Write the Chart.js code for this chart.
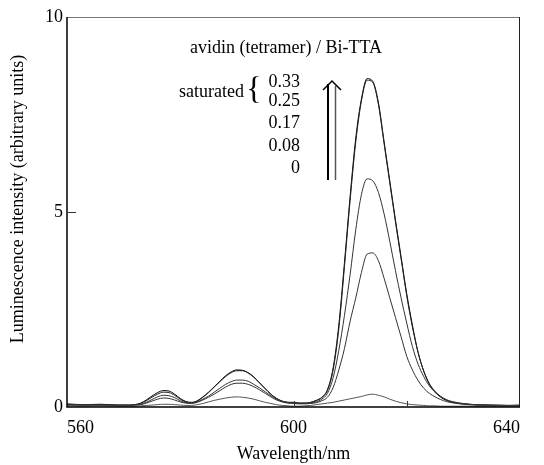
<!DOCTYPE html>
<html>
<head>
<meta charset="utf-8">
<script src="https://cdn.jsdelivr.net/npm/chart.js@4.4.1/dist/chart.umd.min.js"></script>
<style>
  html, body { margin: 0; padding: 0; background: #fff; }
  #wrap { width: 544px; height: 465px; }
</style>
</head>
<body>
<div id="wrap"><canvas id="chartLum" width="544" height="465"></canvas></div>
<script>
// wavelength (nm) shared by every spectrum
const wavelengths = [560, 563, 566, 569, 571, 572, 573, 574, 575, 576, 577, 578, 579, 580, 581, 582, 583, 584, 585, 586, 587, 588, 589, 590, 591, 592, 593, 594, 595, 596, 597, 598, 599, 600, 601, 602, 603, 604, 605, 606, 607, 608, 609, 610, 611, 612, 613, 614, 615, 616, 617, 618, 619, 620, 621, 622, 623, 624, 625, 626, 627, 628, 630, 632, 634, 636, 638, 640];

// avidin/Bi-TTA ratio 0.33
const lum033 = [0.08, 0.06, 0.07, 0.05, 0.05, 0.06, 0.10, 0.18, 0.28, 0.37, 0.42, 0.41, 0.33, 0.22, 0.14, 0.12, 0.16, 0.26, 0.38, 0.52, 0.66, 0.80, 0.90, 0.95, 0.94, 0.88, 0.77, 0.62, 0.47, 0.33, 0.22, 0.15, 0.12, 0.12, 0.10, 0.10, 0.12, 0.17, 0.25, 0.45, 1.00, 2.10, 3.70, 5.40, 6.90, 7.90, 8.42, 8.35, 7.80, 6.80, 5.80, 4.80, 3.85, 2.90, 2.10, 1.40, 0.92, 0.58, 0.38, 0.25, 0.17, 0.12, 0.08, 0.06, 0.05, 0.05, 0.04, 0.05];
// 0.25
const lum025 = [0.06, 0.05, 0.06, 0.05, 0.05, 0.06, 0.09, 0.16, 0.25, 0.33, 0.38, 0.37, 0.30, 0.20, 0.13, 0.11, 0.15, 0.25, 0.37, 0.51, 0.65, 0.78, 0.88, 0.93, 0.93, 0.87, 0.76, 0.62, 0.47, 0.33, 0.22, 0.15, 0.12, 0.11, 0.10, 0.10, 0.11, 0.16, 0.24, 0.42, 0.95, 2.00, 3.60, 5.30, 6.80, 7.85, 8.38, 8.32, 7.75, 6.75, 5.75, 4.75, 3.80, 2.85, 2.05, 1.40, 0.92, 0.60, 0.40, 0.27, 0.18, 0.13, 0.08, 0.06, 0.05, 0.04, 0.04, 0.04];
// 0.17
const lum017 = [0.06, 0.05, 0.05, 0.04, 0.04, 0.05, 0.07, 0.12, 0.19, 0.26, 0.30, 0.29, 0.24, 0.16, 0.11, 0.10, 0.13, 0.20, 0.28, 0.38, 0.48, 0.58, 0.65, 0.69, 0.69, 0.66, 0.58, 0.49, 0.39, 0.29, 0.20, 0.14, 0.11, 0.10, 0.09, 0.09, 0.10, 0.13, 0.20, 0.35, 0.75, 1.45, 2.35, 3.40, 4.55, 5.45, 5.85, 5.80, 5.50, 4.95, 4.25, 3.50, 2.80, 2.15, 1.55, 1.10, 0.78, 0.54, 0.38, 0.27, 0.19, 0.14, 0.09, 0.06, 0.05, 0.04, 0.04, 0.04];
// 0.08
const lum008 = [0.05, 0.05, 0.04, 0.04, 0.04, 0.05, 0.06, 0.10, 0.15, 0.20, 0.23, 0.22, 0.18, 0.13, 0.10, 0.09, 0.12, 0.18, 0.25, 0.33, 0.42, 0.51, 0.58, 0.61, 0.61, 0.58, 0.52, 0.44, 0.35, 0.26, 0.18, 0.13, 0.10, 0.09, 0.08, 0.08, 0.09, 0.11, 0.16, 0.25, 0.50, 0.95, 1.50, 2.20, 2.80, 3.45, 3.92, 3.95, 3.75, 3.30, 2.80, 2.30, 1.80, 1.30, 0.95, 0.68, 0.48, 0.35, 0.26, 0.19, 0.14, 0.11, 0.07, 0.05, 0.04, 0.04, 0.03, 0.04];
// 0
const lum000 = [0.03, 0.02, 0.03, 0.02, 0.02, 0.02, 0.03, 0.04, 0.05, 0.06, 0.07, 0.07, 0.06, 0.05, 0.04, 0.04, 0.06, 0.09, 0.13, 0.17, 0.20, 0.23, 0.25, 0.26, 0.25, 0.23, 0.20, 0.16, 0.12, 0.09, 0.06, 0.04, 0.03, 0.02, 0.02, 0.03, 0.04, 0.06, 0.08, 0.10, 0.12, 0.15, 0.18, 0.21, 0.24, 0.27, 0.31, 0.33, 0.30, 0.26, 0.20, 0.15, 0.11, 0.08, 0.06, 0.05, 0.04, 0.03, 0.03, 0.02, 0.02, 0.02, 0.02, 0.02, 0.02, 0.02, 0.02, 0.02];

const ratioLabels = ["0.33", "0.25", "0.17", "0.08", "0"];
const xTicks = [560, 600, 640];
const yTicks = [0, 5, 10];

const SERIF = '"Liberation Serif", "DejaVu Serif", serif';

function toPoints(vals) {
    return wavelengths.map((w, i) => ({ x: w, y: vals[i] }));
}

function lineSet(label, vals, color) {
    return {
        label: label,
        data: toPoints(vals),
        borderColor: color,
        borderWidth: 1,
        pointRadius: 0,
        fill: false,
        cubicInterpolationMode: 'monotone'
    };
}

// frame, inner ticks, y title and the annotation block
const annotPlugin = {
    id: 'annot',
    afterDraw(chart) {
        const ctx = chart.ctx;
        const a = chart.chartArea;
        const xs = chart.scales.x;
        const ys = chart.scales.y;
        ctx.save();

        // box
        ctx.strokeStyle = '#777';
        ctx.lineWidth = 1;
        ctx.beginPath();
        ctx.moveTo(a.left, a.top + 0.5);
        ctx.lineTo(a.right, a.top + 0.5);
        ctx.stroke();
        ctx.strokeStyle = '#222';
        ctx.beginPath();
        ctx.moveTo(a.right - 0.5, a.top);
        ctx.lineTo(a.right - 0.5, a.bottom);
        ctx.stroke();
        ctx.strokeStyle = '#000';
        ctx.lineWidth = 1.5;
        ctx.beginPath();
        ctx.moveTo(a.left, a.top);
        ctx.lineTo(a.left, a.bottom);
        ctx.lineTo(a.right, a.bottom);
        ctx.stroke();

        // small inner ticks
        ctx.lineWidth = 1;
        ctx.strokeStyle = '#333';
        const y5 = ys.getPixelForValue(5);
        ctx.beginPath();
        ctx.moveTo(a.left, y5 + 0.5);
        ctx.lineTo(a.left + 9, y5 + 0.5);
        [600, 620].forEach(v => {
            const px = Math.round(xs.getPixelForValue(v)) + 0.5;
            ctx.moveTo(px, a.bottom - 6);
            ctx.lineTo(px, a.bottom);
        });
        ctx.stroke();

        // y title
        ctx.fillStyle = '#000';
        ctx.font = '18px ' + SERIF;
        ctx.textAlign = 'center';
        ctx.textBaseline = 'middle';
        ctx.save();
        ctx.translate(18, 199);
        ctx.rotate(-Math.PI / 2);
        ctx.fillText('Luminescence intensity (arbitrary units)', 0, 0);
        ctx.restore();

        // legend-like annotation
        ctx.textAlign = 'left';
        ctx.fillText('avidin (tetramer) / Bi-TTA', 190, 48);
        ctx.textAlign = 'right';
        ctx.fillText('saturated', 244, 92);
        const rowY = [82, 101, 123, 146, 168];
        ratioLabels.forEach((t, i) => ctx.fillText(t, 300, rowY[i]));

        // brace
        ctx.font = '32px ' + SERIF;
        ctx.textAlign = 'center';
        ctx.fillText('{', 254, 91);

        // double arrow
        ctx.lineWidth = 2;
        ctx.strokeStyle = '#000';
        ctx.beginPath();
        ctx.moveTo(328, 84);
        ctx.lineTo(328, 180);
        ctx.stroke();
        ctx.lineWidth = 1.5;
        ctx.strokeStyle = '#555';
        ctx.beginPath();
        ctx.moveTo(335.5, 86);
        ctx.lineTo(335.5, 180);
        ctx.stroke();
        ctx.lineWidth = 1.5;
        ctx.strokeStyle = '#000';
        ctx.beginPath();
        ctx.moveTo(323, 90);
        ctx.lineTo(332, 81);
        ctx.lineTo(341, 90);
        ctx.stroke();

        ctx.restore();
    }
};

new Chart(document.getElementById('chartLum'), {
    type: 'line',
    data: {
        datasets: [
            lineSet('0', lum000, '#555'),
            lineSet('0.08', lum008, '#333'),
            lineSet('0.17', lum017, '#333'),
            lineSet('0.25', lum025, '#222'),
            lineSet('0.33', lum033, '#000')
        ]
    },
    options: {
        responsive: false,
        animation: false,
        layout: { padding: { top: 17, right: 24, bottom: 0, left: 0 } },
        plugins: {
            legend: { display: false },
            tooltip: { enabled: false }
        },
        scales: {
            x: {
                type: 'linear',
                min: 560,
                max: 640,
                afterBuildTicks: s => { s.ticks = xTicks.map(v => ({ value: v })); },
                afterFit: s => { s.height = 58; },
                grid: { display: false, drawTicks: false },
                border: { display: false },
                ticks: {
                    align: 'inner',
                    padding: 10,
                    maxRotation: 0,
                    color: '#000',
                    font: { family: SERIF, size: 18 }
                },
                title: {
                    display: true,
                    text: 'Wavelength/nm',
                    color: '#000',
                    padding: { top: 0, bottom: 0 },
                    font: { family: SERIF, size: 18 }
                }
            },
            y: {
                min: 0,
                max: 10,
                afterBuildTicks: s => { s.ticks = yTicks.map(v => ({ value: v })); },
                afterFit: s => { s.width = 67; },
                grid: { display: false, drawTicks: false },
                border: { display: false },
                ticks: {
                    padding: 4,
                    color: '#000',
                    font: { family: SERIF, size: 18 }
                }
            }
        }
    },
    plugins: [annotPlugin]
});
</script>
</body>
</html>
